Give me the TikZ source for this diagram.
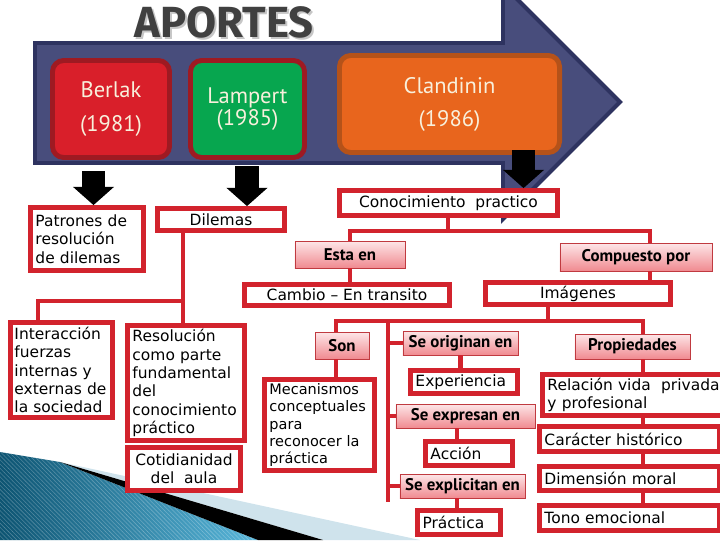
\documentclass[tikz,border=0pt]{standalone}
\usepackage{fontspec}
\setmainfont{DejaVu Sans}
\newfontfamily\etiqfont{PT Sans}
\newfontfamily\titfont{Fira Sans}
\usetikzlibrary{arrows.meta,patterns}
\definecolor{rojo}{HTML}{D2232D}
\definecolor{rojoosc}{HTML}{C03A40}
\definecolor{rosaclaro}{HTML}{FDE6E8}
\definecolor{rosa}{HTML}{F08A90}
\definecolor{azul}{HTML}{484D7C}
\definecolor{azulosc}{HTML}{2E3360}
\definecolor{granate}{HTML}{9E1A22}
\definecolor{rojoap}{HTML}{D91F2A}
\definecolor{verdeap}{HTML}{07A64F}
\definecolor{naranja}{HTML}{E8651D}
\definecolor{naranjaosc}{HTML}{B55219}
\definecolor{crema}{HTML}{F8F0DC}
\definecolor{tealosc}{HTML}{0D5472}
\definecolor{celeste}{HTML}{58B6DA}
\definecolor{celestepal}{HTML}{CFE3EC}
\newcommand{\cuerpo}{\fontsize{11}{13}\selectfont}
\newcommand{\etiq}{\etiqfont\bfseries\fontsize{12}{13}\selectfont}
\newcommand{\aport}{\etiqfont\fontsize{16}{23.5}\selectfont}

\begin{document}
\begin{tikzpicture}[x=0.025cm, y=-0.025cm,
        caja/.style={draw=rojo, line width=3.4pt, fill=white, inner sep=0pt, font=\cuerpo, align=center},
        izq/.style={align=left, inner xsep=0.125cm},
        etiqueta/.style={draw=rojoosc, line width=0.6pt, top color=rosaclaro, bottom color=rosa, inner sep=0pt, font=\etiq},
        aporte/.style={rounded corners=8pt, line width=3.5pt, draw=granate, text=crema, font=\aport, align=center, minimum height=2.425cm},
        conn/.style={draw=rojo, line width=3pt},
        bloque/.style={draw=black, line width=16.4pt, -{Triangle[width=28.5pt,length=13pt]}},
        titulo/.style={font=\titfont\bfseries\fontsize{31}{31}\selectfont, inner sep=0pt},
    ]
    \useasboundingbox (0,0) rectangle (720,540);
    \clip (0,0) rectangle (720,540);

    \shade[left color=tealosc, right color=celeste] (0,452) -- (60,462) -- (258,540) -- (0,540) -- cycle;
    \fill[pattern=north west lines, pattern color=white, opacity=0.25] (0,452) -- (60,462) -- (258,540) -- (0,540) -- cycle;
    \fill[celestepal] (60,462) -- (420,540) -- (323,540) -- cycle;
    \fill[black] (60,462) -- (323,540) -- (258,540) -- cycle;

    \node[titulo, text=gray!45] (sombra) at (226,24) {APORTES};
    \node[titulo, text=black!75] (aportes) at (224,22) {APORTES};

    \draw[fill=azul, draw=azulosc, line width=2.8pt] (35,43) -- (503,43) -- (503,-15) -- (620,102)
        -- (503,219) -- (503,163) -- (35,163) -- cycle;

    \node[aporte, fill=rojoap, minimum width=2.925cm] (berlak) at (111,109) {Berlak\\(1981)};
    \node[aporte, fill=verdeap, minimum width=2.85cm, font=\etiqfont\fontsize{16}{15.5}\selectfont] (lampert) at (247.5,109) {Lampert\\(1985)};
    \node[aporte, fill=naranja, draw=naranjaosc, minimum width=5.5cm] (clandinin) at (449.5,104) {Clandinin\\(1986)};

    \node[caja, izq, text width=2.575cm, minimum height=1.575cm] (patrones) at (87,239) {Patrones de\\resolución\\de dilemas};
    \node[caja, minimum width=3.175cm, minimum height=0.55cm] (dilemas) at (221,219.5) {Dilemas};
    \node[caja, izq, inner xsep=0.1cm, text width=2.35cm, minimum height=2.375cm] (interaccion) at (61.5,370) {Interacción\\fuerzas\\internas y\\externas de\\la sociedad};
    \node[caja, izq, text width=2.675cm, minimum height=2.875cm] (resolucion) at (186,383) {Resolución\\como parte\\fundamental\\del\\conocimiento\\práctico};
    \node[caja, minimum width=2.825cm, minimum height=1.075cm] (cotidianidad) at (184,469) {Cotidianidad\\del\ \ aula};

    \node[caja, minimum width=5.45cm, minimum height=0.625cm] (conocimiento) at (448.5,203) {Conocimiento\ \ practico};
    \node[etiqueta, minimum width=2.75cm, minimum height=0.675cm] (estaen) at (350,254.5) {Esta en};
    \node[caja, minimum width=5.125cm, minimum height=0.525cm] (cambio) at (347,295) {Cambio – En transito};
    \node[etiqueta, minimum width=3.8cm, minimum height=0.7cm] (compuesto) at (636,257) {Compuesto por};
    \node[caja, minimum width=4.625cm, minimum height=0.55cm] (imagenes) at (578,293.5) {Imágenes};

    \node[etiqueta, minimum width=1.35cm, minimum height=0.675cm] (son) at (342,345.5) {Son};
    \node[caja, izq, text width=2.5cm, minimum height=2.275cm, font=\fontsize{10.3}{12.3}\selectfont] (mecanismos) at (319.5,425) {Mecanismos\\conceptuales\\para\\reconocer la\\práctica};
    \node[etiqueta, minimum width=2.875cm, minimum height=0.6cm] (seoriginan) at (460.5,343) {Se originan en};
    \node[caja, izq, text width=2.425cm, minimum height=0.575cm] (experiencia) at (464,382) {Experiencia};
    \node[etiqueta, minimum width=3.475cm, minimum height=0.6cm] (seexpresan) at (465.5,416) {Se expresan en};
    \node[caja, izq, text width=1.925cm, minimum height=0.6cm] (accion) at (469,453.5) {Acción};
    \node[etiqueta, minimum width=3.125cm, minimum height=0.6cm] (seexplicitan) at (462.5,486) {Se explicitan en};
    \node[caja, izq, text width=1.825cm, minimum height=0.6cm] (practica) at (459,522.5) {Práctica};

    \node[etiqueta, minimum width=2.875cm, minimum height=0.625cm] (propiedades) at (632.5,346.5) {Propiedades};
    \node[caja, izq, text width=4.4cm, minimum height=1.025cm] (relacion) at (635.5,395) {Relación vida\ \ privada\\y profesional};
    \node[caja, izq, text width=4.25cm, minimum height=0.625cm] (caracter) at (629.5,439) {Carácter histórico};
    \node[caja, izq, text width=4.25cm, minimum height=0.6cm] (dimension) at (629.5,478.5) {Dimensión moral};
    \node[caja, izq, text width=4.25cm, minimum height=0.625cm] (tono) at (629.5,518) {Tono emocional};

    \coordinate (jd) at (183,301);
    \coordinate (ji) at (38,301);
    \draw[conn] (dilemas.south -| jd) -- (jd) -- (ji) -- (ji |- interaccion.north);
    \draw[conn] (jd) -- (resolucion.north -| jd);

    \coordinate (kc) at (448,231);
    \coordinate (ke) at (350,231);
    \coordinate (kp) at (650,231);
    \draw[conn] (conocimiento.south -| kc) -- (kc);
    \draw[conn] (estaen.north -| ke) -- (ke) -- (kp) -- (compuesto.north -| kp);
    \draw[conn] (estaen.south -| ke) -- (cambio.north -| ke);
    \draw[conn] (compuesto.south -| kp) -- (imagenes.north -| kp);

    \coordinate (ii) at (548,321);
    \coordinate (is) at (336,321);
    \coordinate (it) at (388,321);
    \coordinate (ip) at (643,321);
    \coordinate (ib) at (388,502);
    \coordinate (va) at (457,0);
    \draw[conn] (imagenes.south -| ii) -- (ii);
    \draw[conn] (son.north -| is) -- (is) -- (ip) -- (propiedades.north -| ip);
    \draw[conn] (son.south -| is) -- (mecanismos.north -| is);
    \draw[conn] (it) -- (ib);
    \draw[conn] (it |- seoriginan.west) -- (seoriginan.west);
    \draw[conn] (it |- seexpresan.west) -- (seexpresan.west);
    \draw[conn] (it |- seexplicitan.west) -- (seexplicitan.west);
    \draw[conn] (seoriginan.south) -- (experiencia.north -| seoriginan.south);
    \draw[conn] (seexpresan.south -| va) -- (accion.north -| va);
    \draw[conn] (seexplicitan.south -| va) -- (practica.north -| va);
    \draw[conn] (propiedades.south -| ip) -- (relacion.north -| ip);
    \draw[conn] (relacion.south -| ip) -- (caracter.north -| ip);
    \draw[conn] (caracter.south -| ip) -- (dimension.north -| ip);
    \draw[conn] (dimension.south -| ip) -- (tono.north -| ip);

    \coordinate (fb) at (93.5,171);
    \coordinate (fl) at (247,166);
    \coordinate (fc) at (523.5,150);
    \draw[bloque] (fb) -- (fb |- patrones.north);
    \draw[bloque] (fl) -- (fl |- dilemas.north);
    \draw[bloque] (fc) -- (fc |- conocimiento.north);
\end{tikzpicture}
\end{document}
